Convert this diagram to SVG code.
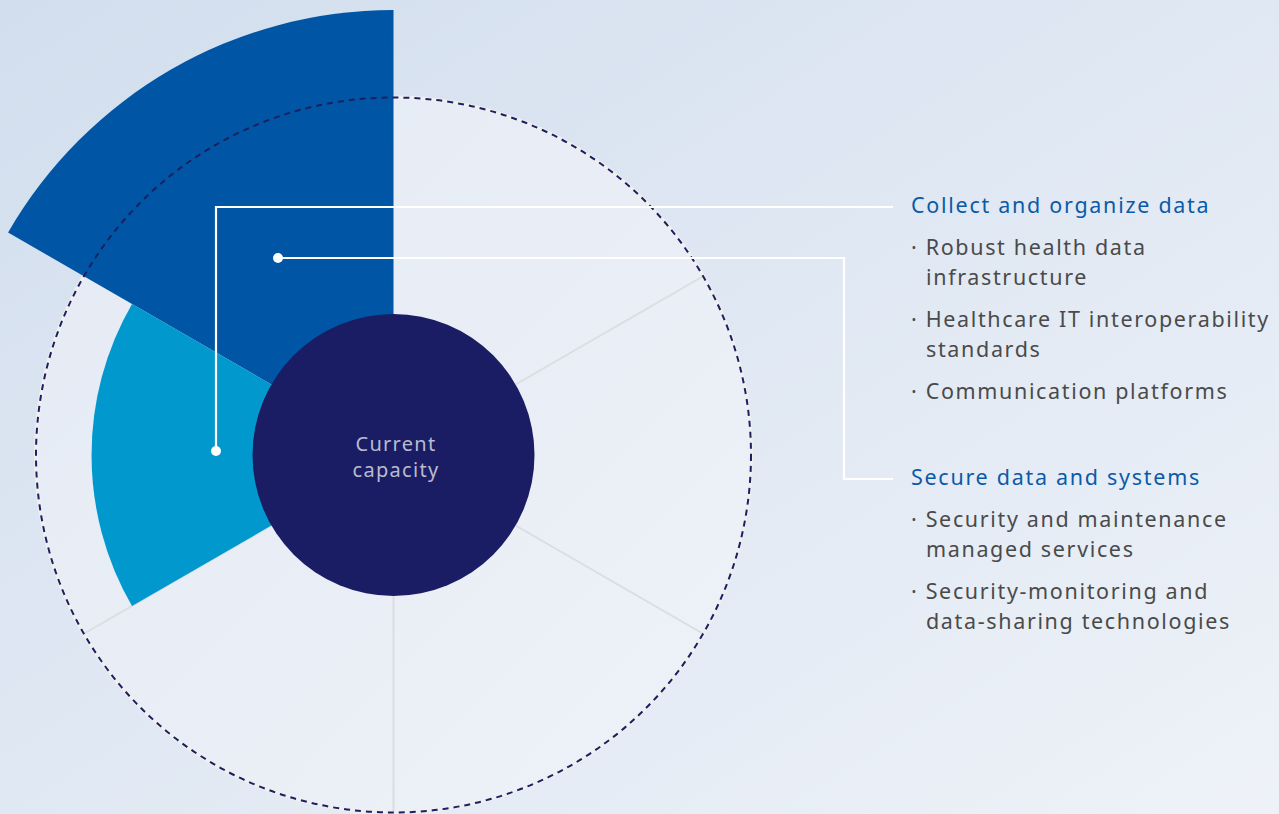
<svg xmlns="http://www.w3.org/2000/svg" width="1279" height="814" viewBox="0 0 1279 814">
<defs>
<linearGradient id="bg" x1="0" y1="0" x2="1" y2="1">
<stop offset="0" stop-color="#d2deee"/>
<stop offset="1" stop-color="#eef2f8"/>
</linearGradient>
<linearGradient id="disc" x1="0" y1="0" x2="1" y2="1">
<stop offset="0" stop-color="#e4eaf4"/>
<stop offset="1" stop-color="#eef2f8"/>
</linearGradient>
<style>
.div{stroke:#dcdddf;stroke-width:2;fill:none}
.conn{stroke:#ffffff;stroke-width:2.2;fill:none}
.head{font-family:"Noto Sans","Open Sans",sans-serif;font-size:21.5px;letter-spacing:1.72px;fill:#0b5aa8}
.item{font-family:"Noto Sans","Open Sans",sans-serif;font-size:21.5px;letter-spacing:1.65px;fill:#4a4a4a}
.center{font-family:"Noto Sans","Open Sans",sans-serif;font-size:20px;letter-spacing:1.3px;fill:#b9bccf;text-anchor:middle}
</style>
</defs>
<rect width="1279" height="814" fill="url(#bg)"/>
<g id="wheel">
<circle cx="393.5" cy="455" r="357.5" fill="url(#disc)" stroke="#eeeff1" stroke-width="4"/>
<line class="div" x1="515.6" y1="384.5" x2="702.7" y2="276.5"/>
<line class="div" x1="515.6" y1="525.5" x2="702.7" y2="633.5"/>
<line class="div" x1="393.5" y1="596" x2="393.5" y2="812"/>
<line class="div" x1="271.4" y1="525.5" x2="84.3" y2="633.5"/>
</g>
<g id="sector-collect">
<path d="M393.5,455 L393.5,10 A445,445 0 0 0 8.1,232.5 Z" fill="#0055a5"/>
</g>
<g id="sector-secure">
<path d="M393.5,455 L132,304 A302,302 0 0 0 132,606 Z" fill="#0098cd"/>
</g>
<circle id="ring" cx="393.5" cy="455" r="357.5" fill="none" stroke="#1d1f5e" stroke-width="2" stroke-dasharray="6 5"/>
<g id="current-capacity">
<circle cx="393.5" cy="455" r="141" fill="#1a1c64"/>
<text class="center" x="396" y="451">Current</text>
<text class="center" x="396" y="477">capacity</text>
</g>
<g id="connectors">
<polyline class="conn" points="216,451 216,207 893,207"/>
<circle cx="216" cy="451" r="5" fill="#ffffff"/>
<polyline class="conn" points="278,258 844,258 844,479 893,479"/>
<circle cx="278" cy="258" r="5" fill="#ffffff"/>
</g>
<g id="label-collect">
<text class="head" x="911" y="213">Collect and organize data</text>
<text class="item" x="911" y="255">· Robust health data</text>
<text class="item" x="926" y="285">infrastructure</text>
<text class="item" x="911" y="327">· Healthcare IT interoperability</text>
<text class="item" x="926" y="357">standards</text>
<text class="item" x="911" y="399">· Communication platforms</text>
</g>
<g id="label-secure">
<text class="head" x="911" y="485">Secure data and systems</text>
<text class="item" x="911" y="527">· Security and maintenance</text>
<text class="item" x="926" y="557">managed services</text>
<text class="item" x="911" y="599">· Security-monitoring and</text>
<text class="item" x="926" y="629">data-sharing technologies</text>
</g>
</svg>
